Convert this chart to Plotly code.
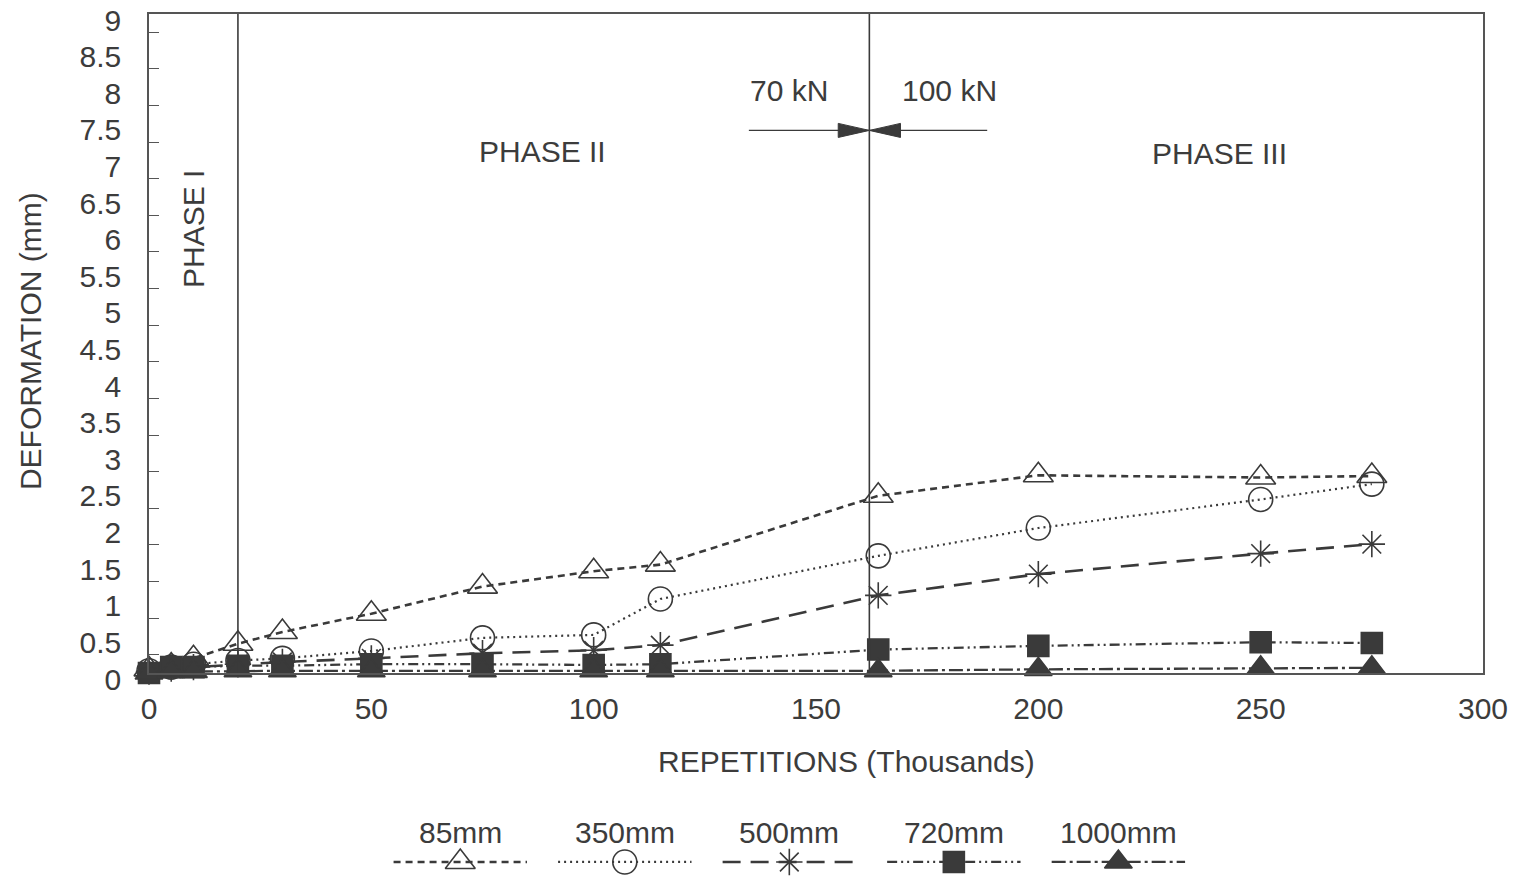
import plotly.graph_objects as go

# ---------------- data ----------------
repetitions = [0, 5, 10, 20, 30, 50, 75, 100, 115, 164, 200, 250, 275]
series_names = ["85mm", "350mm", "500mm", "720mm", "1000mm"]
d_85 = [0.05, 0.10, 0.20, 0.40, 0.56, 0.81, 1.18, 1.39, 1.48, 2.42, 2.70, 2.67, 2.69]
d_350 = [0.03, 0.08, 0.12, 0.17, 0.20, 0.30, 0.48, 0.52, 1.01, 1.60, 1.98, 2.37, 2.58]
d_500 = [0.02, 0.06, 0.08, 0.12, 0.15, 0.20, 0.27, 0.31, 0.38, 1.06, 1.35, 1.63, 1.76]
d_720 = [0.00, 0.08, 0.08, 0.10, 0.10, 0.12, 0.12, 0.11, 0.12, 0.32, 0.37, 0.42, 0.41]
d_1000 = [0.00, 0.02, 0.02, 0.03, 0.03, 0.03, 0.03, 0.03, 0.03, 0.03, 0.05, 0.07, 0.07]
series_values = [d_85, d_350, d_500, d_720, d_1000]

y_tickvals = [i * 0.5 for i in range(19)]
y_ticktext = ["0", "0.5", "1", "1.5", "2", "2.5", "3", "3.5", "4", "4.5", "5",
              "5.5", "6", "6.5", "7", "7.5", "8", "8.5", "9"]
x_tickvals = [0, 50, 100, 150, 200, 250, 300]

phase1_end = 20
load_change = 162

# ---------------- styles ----------------
INK = "#3a3a3a"
TXT = "#3c3c3c"
FONT = "Liberation Sans, Arial, sans-serif"
FS = 30
styles = [
    dict(symbol="triangle-up-open", size=26, color=INK, fill=INK, dash="7px,5px", lw=2.6),
    dict(symbol="circle-open", size=24, color=INK, fill=INK, dash="2px,4px", lw=2.2),
    dict(symbol="asterisk-open", size=22, color=INK, fill=INK, dash="18px,10px", lw=2.6),
    dict(symbol="square", size=21, color=INK, fill=INK, dash="10px,4px,2px,4px,2px,4px", lw=2.3),
    dict(symbol="triangle-up", size=24, color=INK, fill=INK, dash="14px,4px,3px,4px", lw=2.3),
]

fig = go.Figure()
for name, vals, st in zip(series_names, series_values, styles):
    fig.add_trace(go.Scatter(
        x=repetitions, y=vals, mode="lines+markers", name=name, showlegend=False,
        line=dict(color=st["color"], width=st["lw"], dash=st["dash"]),
        marker=dict(symbol=st["symbol"], size=st["size"], color=st["fill"],
                    line=dict(color=st["color"], width=1.6)),
        cliponaxis=False, xaxis="x", yaxis="y"))

# ---------- custom legend (sample lines in a small axis under the chart) ----------
leg_start, leg_step, leg_half = 70, 37, 15
leg_line_y, leg_text_y = 0.23, 0.705
annotations = []
for i, (name, st) in enumerate(zip(series_names, styles)):
    c = leg_start + i * leg_step
    fig.add_trace(go.Scatter(
        x=[c - leg_half, c, c + leg_half], y=[leg_line_y] * 3, mode="lines+markers",
        showlegend=False, hoverinfo="skip",
        line=dict(color=st["color"], width=st["lw"], dash=st["dash"]),
        marker=dict(symbol=st["symbol"], size=st["size"], color=st["fill"],
                    opacity=[0, 1, 0], line=dict(color=st["color"], width=1.6)),
        cliponaxis=False, xaxis="x2", yaxis="y2"))
    annotations.append(dict(x=c, y=leg_text_y, xref="x2", yref="y2", text=name,
                            xanchor="center", yanchor="middle",
                            showarrow=False, font=dict(size=FS, color=TXT, family=FONT)))

# ---------- text labels on the chart ----------
def txt(x, y, s, angle=0):
    return dict(x=x, y=y, xref="x", yref="y", text=s, showarrow=False, textangle=angle,
                xanchor="center", yanchor="middle",
                font=dict(size=FS, color=TXT, family=FONT))

annotations += [
    txt(10, 6.07, "PHASE I", -90),
    txt(88.6, 7.12, "PHASE II"),
    txt(240.7, 7.1, "PHASE III"),
    txt(144, 7.95, "70 kN"),
    txt(180, 7.95, "100 kN"),
    dict(x=0.5225, y=0.1323, xref="paper", yref="paper", text="REPETITIONS (Thousands)",
         xanchor="center", yanchor="middle",
         showarrow=False, font=dict(size=FS, color=TXT, family=FONT)),
    dict(x=-0.0892, y=0.6206, xref="paper", yref="paper", text="DEFORMATION (mm)",
         xanchor="center", yanchor="middle",
         textangle=-90, showarrow=False, font=dict(size=FS, color=TXT, family=FONT)),
]

# ---------- reference lines / load arrows ----------
arrow_y, arrow_left, arrow_right = 7.41, 134.9, 188.5
head_len, head_half = 7.0, 0.096
shapes = [
    dict(type="line", xref="x", yref="y", x0=phase1_end, x1=phase1_end, y0=0, y1=9,
         line=dict(color=INK, width=1.6)),
    dict(type="line", xref="x", yref="y", x0=load_change, x1=load_change, y0=0, y1=9,
         line=dict(color=INK, width=1.6)),
    dict(type="line", xref="x", yref="y", x0=arrow_left, x1=arrow_right, y0=arrow_y, y1=arrow_y,
         line=dict(color=INK, width=1.2)),
    dict(type="path", xref="x", yref="y",
         path=f"M {load_change - head_len},{arrow_y + head_half} L {load_change},{arrow_y} "
              f"L {load_change - head_len},{arrow_y - head_half} Z",
         fillcolor=INK, line=dict(color=INK, width=1)),
    dict(type="path", xref="x", yref="y",
         path=f"M {load_change + head_len},{arrow_y + head_half} L {load_change},{arrow_y} "
              f"L {load_change + head_len},{arrow_y - head_half} Z",
         fillcolor=INK, line=dict(color=INK, width=1)),
]

main_bottom = 0.2355
fig.update_layout(
    width=1517, height=876,
    margin=dict(l=149, r=34, t=14, b=0, autoexpand=False),
    paper_bgcolor="white", plot_bgcolor="white",
    font=dict(family=FONT, color=TXT, size=FS),
    showlegend=False,
    xaxis=dict(domain=[0, 1], range=[0, 300], tickvals=x_tickvals, showgrid=False,
               zeroline=False, showline=True, linecolor="#555", linewidth=1.6, mirror=True,
               ticks="", ticklabelstandoff=8, automargin=False,
               tickfont=dict(size=FS, color=TXT, family=FONT), anchor="y"),
    yaxis=dict(domain=[main_bottom, 1], range=[0, 9], tickvals=y_tickvals, ticktext=y_ticktext,
               showgrid=False, zeroline=False, showline=True, linecolor="#555", linewidth=1.6,
               mirror=True, ticks="", ticklabelstandoff=20, ticklabelshift=6,
               ticklabeloverflow="allow", automargin=False,
               tickfont=dict(size=FS, color=TXT, family=FONT),
               minor=dict(ticks="inside", tick0=0.25, dtick=0.5, ticklen=10,
                          tickcolor="#555", tickwidth=1.2, showgrid=False),
               anchor="x"),
    xaxis2=dict(domain=[0, 1], range=[0, 300], visible=False, anchor="y2", automargin=False),
    yaxis2=dict(domain=[0, 0.0708], range=[0, 1], visible=False, anchor="x2", automargin=False),
    annotations=annotations,
    shapes=shapes,
)

fig.write_html("out.html")
